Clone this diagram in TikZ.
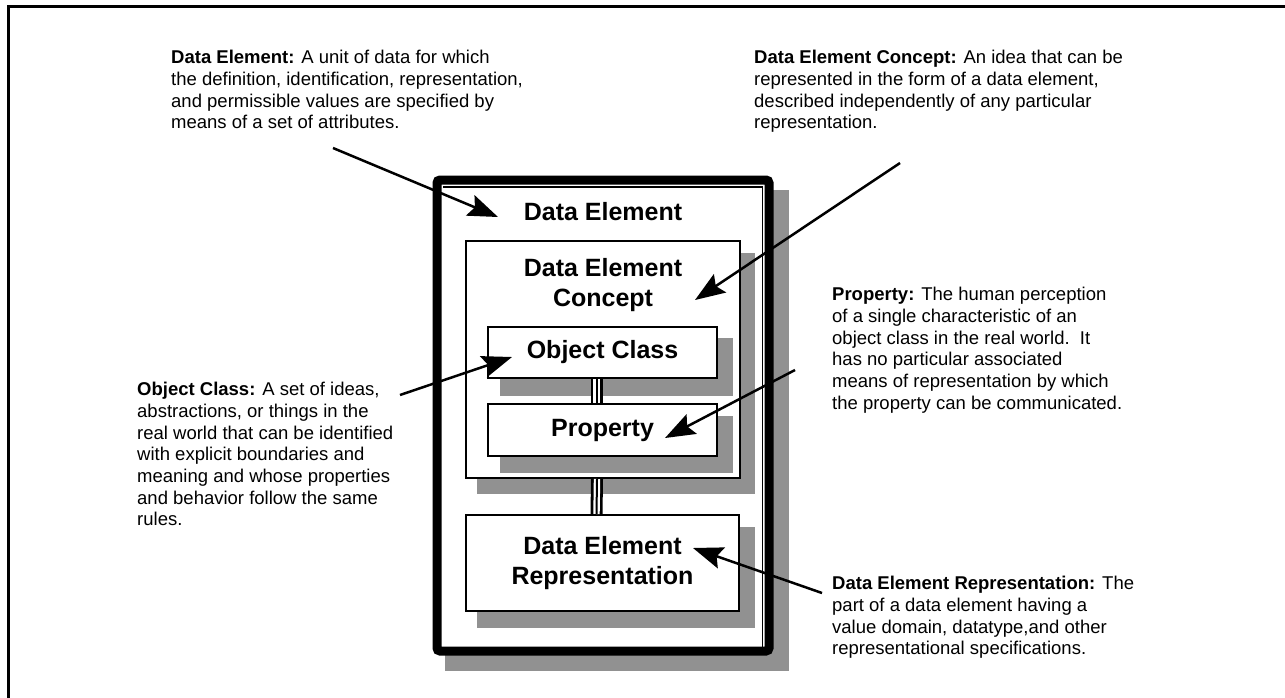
\documentclass[tikz,border=0pt]{standalone}
\usepackage{fontspec}
\setmainfont{Liberation Sans}
\usetikzlibrary{arrows.meta}
\definecolor{shadowgray}{RGB}{145,145,145}
\begin{document}
\begin{tikzpicture}[x=1pt,y=-1pt,
  box/.style={draw=black, line width=2pt, fill=white, inner sep=0pt, font=\fontsize{25}{30}\selectfont\bfseries, align=center},
  boxtext/.style={inner sep=0pt, font=\fontsize{25}{30}\selectfont\bfseries, align=center},
  shade/.style={fill=shadowgray},
  note/.style={anchor=north west, inner sep=0pt, align=left, font=\fontsize{18.5}{21.7}\selectfont},
  pointer/.style={line width=2.5pt, -{Stealth[length=30pt,width=22pt,inset=5pt]}},
  triback/.style={line width=12pt, draw=black},
  trifront/.style={line width=2.2pt, draw=white, double=black, double distance=2pt},
]
\useasboundingbox (0,0) rectangle (1285,698);
\draw[line width=2.2pt] (8.5,698) -- (8.5,6.6) -- (1285,6.6);

% outer data element box
\fill[shade] (445,190) rectangle (789,671);
\node[box, line width=9pt, minimum width=332pt, minimum height=471pt, rounded corners=3pt] (deo) at (603,415.5) {};
\draw[line width=1.3pt] (443,187) -- (762.5,187) -- (762.5,647);
\node[boxtext] (delabel) at (603,212) {Data Element};

% data element concept
\fill[shade] (477,253) rectangle (755,494);
\node[box, minimum width=274pt, minimum height=237pt] (dec) at (603,359.5) {};
\node[boxtext] (dectext) at (603,285) {Data Element\\Concept};

% object class
\fill[shade] (500,338) rectangle (733,396);
\node[box, minimum width=229pt, minimum height=51pt] (oc) at (602.5,352.5) {Object Class};

% property
\fill[shade] (500,416) rectangle (733,473);
\node[box, minimum width=229pt, minimum height=52pt] (prop) at (602.5,430) {Property};

% representation
\fill[shade] (477,527) rectangle (755,628);
\node[box, minimum width=273pt, minimum height=96pt] (der) at (602.5,563) {Data Element\\Representation};

% triple-line connectors
\draw[triback] ([xshift=-6pt]oc.south) -- ([xshift=-6pt]prop.north);
\draw[trifront] ([xshift=-6pt]oc.south) -- ([xshift=-6pt]prop.north);
\draw[triback] ([xshift=-6pt]dec.south) -- ([xshift=-6pt]der.north);
\draw[trifront] ([xshift=-6pt]dec.south) -- ([xshift=-6pt]der.north);

% annotations
\node[note] (nde) at (171,50) {\textbf{Data Element:} A unit of data for which\\the definition, identification, representation,\\and permissible values are specified by\\means of a set of attributes.};
\node[note] (ndec) at (754,50) {\textbf{Data Element Concept:} An idea that can be\\represented in the form of a data element,\\described independently of any particular\\representation.};
\node[note] (nprop) at (832,287) {\textbf{Property:} The human perception\\of a single characteristic of an\\object class in the real world.\ \ It\\has no particular associated\\means of representation by which\\the property can be communicated.};
\node[note] (noc) at (137,382) {\textbf{Object Class:} A set of ideas,\\abstractions, or things in the\\real world that can be identified\\with explicit boundaries and\\meaning and whose properties\\and behavior follow the same\\rules.};
\node[note] (nder) at (832,576) {\textbf{Data Element Representation:} The\\part of a data element having a\\value domain, datatype,and other\\representational specifications.};

% pointers
\coordinate (a1s) at (333,148); \coordinate (a1e) at (498,217);
\coordinate (a2s) at (900,163); \coordinate (a2e) at (695,300);
\coordinate (a3s) at (400,395); \coordinate (a3e) at (512,357);
\coordinate (a4s) at (795,370); \coordinate (a4e) at (665,438);
\coordinate (a5s) at (822,593); \coordinate (a5e) at (693,548);
\draw[pointer] (a1s) -- (a1e);
\draw[pointer] (a2s) -- (a2e);
\draw[pointer] (a3s) -- (a3e);
\draw[pointer] (a4s) -- (a4e);
\draw[pointer] (a5s) -- (a5e);
\end{tikzpicture}
\end{document}
